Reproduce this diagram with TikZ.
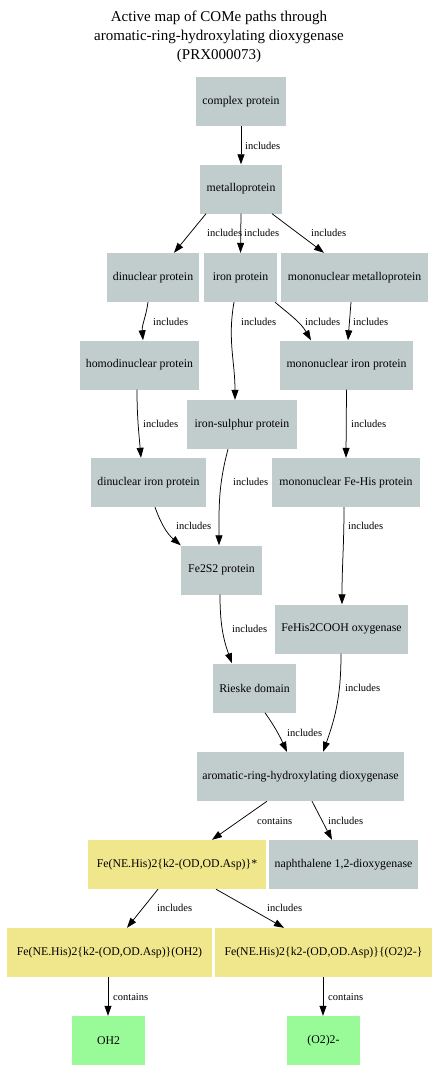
\documentclass[tikz,border=0pt]{standalone}
\usepackage{fontspec}
\setmainfont{Liberation Serif}
\usetikzlibrary{arrows.meta}
\definecolor{protgrey}{HTML}{C1CDCD}
\definecolor{iongold}{HTML}{F0E68C}
\definecolor{molgreen}{HTML}{98FB98}
\begin{document}
\begin{tikzpicture}[x=1pt,y=-1pt,
  box/.style={minimum height=49pt, inner sep=0pt, font=\fontsize{11.8}{14}\selectfont},
  prot/.style={box, fill=protgrey},
  ion/.style={box, fill=iongold},
  mol/.style={box, fill=molgreen},
  link/.style={-{Triangle[length=10pt,width=7pt]}, line width=0.75pt},
  lab/.style={font=\fontsize{10.5}{12}\selectfont, inner sep=0pt, anchor=west}
]
\useasboundingbox (0,0) rectangle (436,1081);

% title
\node[align=center, font=\fontsize{15}{19}\selectfont] (title) at (219,37)
  {Active map of COMe paths through\\aromatic-ring-hydroxylating dioxygenase\\(PRX000073)};

% protein classes
\node[prot, minimum width=90pt]  (cp) at (241,101.5) {complex protein};
\node[prot, minimum width=82pt]  (mp) at (241,189)   {metalloprotein};
\node[prot, minimum width=92pt]  (dn) at (153,277.5) {dinuclear protein};
\node[prot, minimum width=73pt]  (ip) at (240.5,277.5) {iron protein};
\node[prot, minimum width=147pt] (mm) at (354.5,277.5) {mononuclear metalloprotein};
\node[prot, minimum width=119pt] (hd) at (139.5,365) {homodinuclear protein};
\node[prot, minimum width=133pt] (mi) at (346.5,365) {mononuclear iron protein};
\node[prot, minimum width=110pt] (is) at (242,424.5) {iron-sulphur protein};
\node[prot, minimum width=115pt] (di) at (148.5,482.5) {dinuclear iron protein};
\node[prot, minimum width=148pt] (mf) at (346,482.5) {mononuclear Fe-His protein};
\node[prot, minimum width=81pt]  (fs) at (221.5,570) {Fe2S2 protein};
\node[prot, minimum width=133pt] (fh) at (341.5,629) {FeHis2COOH oxygenase};
\node[prot, minimum width=83pt]  (rd) at (254.5,688) {Rieske domain};
\node[prot, minimum width=207pt] (ar) at (300.5,776.5) {aromatic-ring-hydroxylating dioxygenase};
\node[prot, minimum width=149pt] (nd) at (343.5,864.5) {naphthalene 1,2-dioxygenase};

% metal centres
\node[ion, minimum width=178pt] (fe) at (177,864.5) {Fe(NE.His)2\{k2-(OD,OD.Asp)\}*};
\node[ion, minimum width=205pt] (fw) at (109.5,952.5) {Fe(NE.His)2\{k2-(OD,OD.Asp)\}(OH2)};
\node[ion, minimum width=217pt] (fo) at (323.5,952.5) {Fe(NE.His)2\{k2-(OD,OD.Asp)\}\{(O2)2-\}};

% ligands
\node[mol, minimum width=73pt] (ow) at (108.5,1040.5) {OH2};
\node[mol, minimum width=73pt] (oo) at (323.5,1040.5) {(O2)2-};

% connectors
\draw[link] (cp.south) -- (mp.north);
\draw[link] ([xshift=-35pt]mp.south) -- ([xshift=21pt]dn.north);
\draw[link] (mp.south) -- (ip.north);
\draw[link] ([xshift=31pt]mp.south) -- ([xshift=-30.5pt]mm.north);
\draw[link] ([xshift=-5pt]dn.south) to[out=-98,in=95] ([xshift=3.5pt]hd.north);
\draw[link] ([xshift=-6.5pt]ip.south) to[out=-100,in=90] ([xshift=-7pt]is.north);
\draw[link] ([xshift=34.5pt]ip.south) to[out=-40,in=120] ([xshift=-35.5pt]mi.north);
\draw[link] ([xshift=-3.5pt]mm.south) -- ([xshift=1.5pt]mi.north);
\draw[link] ([xshift=-2.5pt]hd.south) to[out=-90,in=95] ([xshift=-7.5pt]di.north);
\draw[link] (mi.south) -- (mf.north);
\draw[link] ([xshift=-14pt]is.south) to[out=-105,in=90] ([xshift=-2.5pt]fs.north);
\draw[link] ([xshift=6.5pt]di.south) to[out=-70,in=140] (fs.north west);
\draw[link] ([xshift=-2pt]mf.south) to[out=-90,in=90] ([xshift=0.5pt]fh.north);
\draw[link] ([xshift=-1.5pt]fs.south) to[out=-90,in=110] ([xshift=-22.5pt]rd.north);
\draw[link] ([xshift=10.5pt]rd.south) to[out=-55,in=115] ([xshift=-13.5pt]ar.north);
\draw[link] ([xshift=-0.5pt]fh.south) to[out=-90,in=70] ([xshift=22.5pt]ar.north);
\draw[link] ([xshift=-33.5pt]ar.south) -- ([xshift=35pt]fe.north);
\draw[link] ([xshift=11.5pt]ar.south) -- ([xshift=-11.5pt]nd.north);
\draw[link] ([xshift=-19pt]fe.south) -- ([xshift=17.5pt]fw.north);
\draw[link] ([xshift=39pt]fe.south) -- ([xshift=-39.5pt]fo.north);
\draw[link] ([xshift=-1.5pt]fw.south) -- ([xshift=-0.5pt]ow.north);
\draw[link] ([xshift=-0.5pt]fo.south) -- ([xshift=-0.5pt]oo.north);

% connector labels
\node[lab] (l1)  at (245,146) {includes};
\node[lab] (l2)  at (207,233) {includes};
\node[lab] (l3)  at (244,233) {includes};
\node[lab] (l4)  at (311,233) {includes};
\node[lab] (l5)  at (153,322) {includes};
\node[lab] (l6)  at (241,322) {includes};
\node[lab] (l7)  at (305,322) {includes};
\node[lab] (l8)  at (353,322) {includes};
\node[lab] (l9)  at (143,424) {includes};
\node[lab] (l10) at (351,424) {includes};
\node[lab] (l11) at (233,482) {includes};
\node[lab] (l12) at (176,526) {includes};
\node[lab] (l13) at (348,526) {includes};
\node[lab] (l14) at (232,629) {includes};
\node[lab] (l15) at (287,733) {includes};
\node[lab] (l16) at (345,688) {includes};
\node[lab] (l17) at (257,821) {contains};
\node[lab] (l18) at (328,821) {includes};
\node[lab] (l19) at (157,908) {includes};
\node[lab] (l20) at (267,908) {includes};
\node[lab] (l21) at (113,997) {contains};
\node[lab] (l22) at (328,997) {contains};
\end{tikzpicture}
\end{document}
